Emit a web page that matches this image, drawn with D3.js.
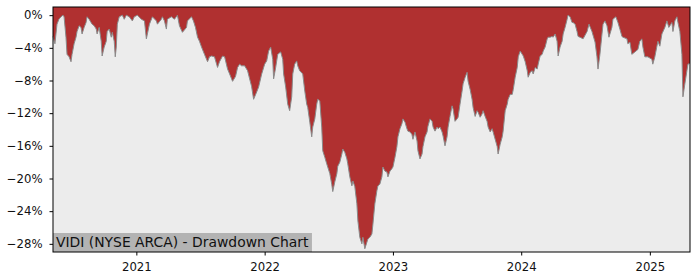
<!DOCTYPE html>
<html>
<head>
<meta charset="utf-8">
<script src="https://cdn.jsdelivr.net/npm/d3@7"></script>
<style>
  body { margin: 0; background: #fff; }
  svg { display: block; font-family: "DejaVu Sans", sans-serif; }
</style>
</head>
<body>
<div id="chart"></div>
<script>
var width = 700;
var height = 280;
var margin = { top: 7, right: 10, bottom: 28, left: 53 };

var title = 'VIDI (NYSE ARCA) - Drawdown Chart';

// dates as decimal years
var dates = [
  2020.352, 2020.367, 2020.383, 2020.398, 2020.414, 2020.430, 2020.438, 2020.453, 2020.461, 2020.477,
  2020.492, 2020.500, 2020.516, 2020.531, 2020.539, 2020.555, 2020.570, 2020.578, 2020.594, 2020.609,
  2020.617, 2020.633, 2020.648, 2020.656, 2020.672, 2020.688, 2020.695, 2020.711, 2020.727, 2020.734,
  2020.750, 2020.766, 2020.773, 2020.789, 2020.805, 2020.813, 2020.828, 2020.836, 2020.844, 2020.852,
  2020.867, 2020.891, 2020.906, 2020.922, 2020.945, 2020.969, 2020.984, 2021.008, 2021.039, 2021.063,
  2021.078, 2021.102, 2021.125, 2021.156, 2021.164, 2021.195, 2021.203, 2021.219, 2021.234, 2021.242,
  2021.273, 2021.297, 2021.320, 2021.336, 2021.359, 2021.391, 2021.398, 2021.430, 2021.445, 2021.461,
  2021.477, 2021.492, 2021.508, 2021.531, 2021.555, 2021.570, 2021.586, 2021.609, 2021.633, 2021.648,
  2021.672, 2021.688, 2021.711, 2021.727, 2021.750, 2021.773, 2021.789, 2021.805, 2021.820, 2021.844,
  2021.867, 2021.883, 2021.898, 2021.914, 2021.938, 2021.953, 2021.977, 2022.000, 2022.016, 2022.031,
  2022.047, 2022.063, 2022.070, 2022.086, 2022.102, 2022.125, 2022.141, 2022.148, 2022.164, 2022.180,
  2022.195, 2022.211, 2022.219, 2022.234, 2022.250, 2022.258, 2022.273, 2022.297, 2022.313, 2022.328,
  2022.336, 2022.352, 2022.367, 2022.375, 2022.391, 2022.406, 2022.414, 2022.430, 2022.445, 2022.453,
  2022.469, 2022.484, 2022.492, 2022.508, 2022.523, 2022.531, 2022.547, 2022.563, 2022.570, 2022.586,
  2022.602, 2022.609, 2022.625, 2022.641, 2022.648, 2022.664, 2022.680, 2022.688, 2022.703, 2022.719,
  2022.727, 2022.742, 2022.758, 2022.766, 2022.781, 2022.797, 2022.805, 2022.820, 2022.836, 2022.844,
  2022.859, 2022.875, 2022.883, 2022.898, 2022.914, 2022.922, 2022.938, 2022.953, 2022.961, 2022.977,
  2022.992, 2023.000, 2023.016, 2023.031, 2023.039, 2023.055, 2023.070, 2023.078, 2023.094, 2023.109,
  2023.117, 2023.133, 2023.148, 2023.156, 2023.172, 2023.188, 2023.195, 2023.211, 2023.227, 2023.234,
  2023.250, 2023.266, 2023.273, 2023.289, 2023.305, 2023.313, 2023.328, 2023.344, 2023.352, 2023.367,
  2023.383, 2023.391, 2023.406, 2023.422, 2023.430, 2023.445, 2023.461, 2023.469, 2023.484, 2023.500,
  2023.508, 2023.523, 2023.539, 2023.547, 2023.563, 2023.578, 2023.586, 2023.602, 2023.617, 2023.625,
  2023.641, 2023.656, 2023.664, 2023.680, 2023.695, 2023.703, 2023.719, 2023.734, 2023.742, 2023.758,
  2023.773, 2023.781, 2023.797, 2023.813, 2023.820, 2023.836, 2023.852, 2023.859, 2023.875, 2023.891,
  2023.898, 2023.914, 2023.930, 2023.938, 2023.953, 2023.969, 2023.977, 2023.992, 2024.008, 2024.016,
  2024.031, 2024.047, 2024.054, 2024.070, 2024.085, 2024.093, 2024.109, 2024.124, 2024.132, 2024.147,
  2024.163, 2024.171, 2024.186, 2024.202, 2024.209, 2024.225, 2024.240, 2024.248, 2024.264, 2024.279,
  2024.287, 2024.302, 2024.318, 2024.326, 2024.341, 2024.357, 2024.364, 2024.380, 2024.395, 2024.403,
  2024.419, 2024.434, 2024.442, 2024.457, 2024.481, 2024.512, 2024.527, 2024.550, 2024.574, 2024.589,
  2024.597, 2024.612, 2024.628, 2024.636, 2024.651, 2024.667, 2024.682, 2024.705, 2024.713, 2024.736,
  2024.752, 2024.767, 2024.783, 2024.791, 2024.822, 2024.829, 2024.845, 2024.860, 2024.884, 2024.907,
  2024.922, 2024.938, 2024.946, 2024.961, 2024.984, 2025.016, 2025.023, 2025.039, 2025.055, 2025.063,
  2025.078, 2025.094, 2025.117, 2025.133, 2025.148, 2025.172, 2025.180, 2025.195, 2025.211, 2025.219,
  2025.234, 2025.250, 2025.258, 2025.273, 2025.289, 2025.297, 2025.313
];

// drawdown in percent
var drawdown = [
  -2.6, -3.5, -1.1, -0.5, -0.2, 0, -0.2, -2.7, -4.8, -5.1,
  -5.7, -4.8, -3.5, -2.7, -2.0, -1.3, -1.5, -2.3, -1.5, -0.9,
  -0.2, -0.5, -0.9, -1.1, -1.3, -1.7, -2.3, -1.5, -3.2, -5.0,
  -3.9, -3.2, -2.0, -1.7, -2.7, -2.1, -3.2, -5.1, -3.9, -1.1,
  -0.2, 0, -0.5, 0, -0.2, -0.7, -0.2, 0, -0.5, -0.7,
  -2.9, -1.1, -0.2, -0.7, -1.1, -0.5, -0.2, -0.7, -1.7, -0.5,
  -0.2, -0.5, 0, -1.3, -2.1, -1.5, -0.7, -0.2, -0.7, -1.5,
  -2.7, -3.2, -3.9, -4.8, -5.7, -5.1, -5.0, -5.1, -6.4, -5.7,
  -5.0, -5.1, -6.6, -7.2, -8.1, -7.5, -6.4, -6.0, -6.2, -6.2,
  -6.8, -7.8, -8.7, -10.3, -9.4, -8.8, -7.2, -6.0, -5.6, -4.4,
  -3.9, -5.4, -7.8, -6.4, -4.8, -4.5, -5.4, -7.2, -8.8, -10.9,
  -11.7, -10.0, -7.2, -6.0, -5.6, -6.2, -6.8, -7.2, -9.3, -10.9,
  -11.3, -13.1, -14.9, -13.7, -12.7, -10.9, -10.3, -10.5, -13.7, -16.6,
  -17.4, -18.2, -18.6, -19.4, -20.7, -21.6, -20.4, -19.4, -18.5, -18.0,
  -17.0, -16.4, -16.8, -17.6, -18.2, -19.8, -20.9, -20.3, -21.0, -23.1,
  -25.2, -27.2, -28.0, -27.2, -28.6, -27.8, -27.4, -27.2, -26.8, -25.6,
  -23.1, -21.5, -20.9, -20.7, -19.8, -18.6, -19.1, -19.2, -19.8, -19.1,
  -18.8, -18.6, -17.4, -16.1, -14.9, -13.9, -13.3, -12.7, -13.1, -13.9,
  -14.2, -14.3, -14.6, -15.2, -14.3, -15.4, -16.6, -17.6, -17.0, -16.1,
  -14.9, -14.3, -13.6, -12.7, -13.0, -13.7, -14.2, -13.7, -13.9, -13.7,
  -14.3, -14.8, -16.0, -14.9, -13.7, -12.4, -11.1, -11.5, -13.0, -12.7,
  -12.5, -10.9, -9.3, -8.4, -7.6, -7.0, -8.1, -9.1, -10.3, -11.3,
  -12.4, -11.7, -11.9, -12.5, -12.1, -11.7, -12.4, -13.0, -13.7, -14.3,
  -13.9, -14.3, -15.2, -16.1, -17.0, -15.8, -14.9, -14.2, -11.7, -10.9,
  -10.3, -9.7, -9.7, -9.1, -7.6, -6.4, -5.1, -4.4, -4.8, -5.0,
  -5.7, -6.8, -7.6, -7.0, -6.8, -7.2, -6.4, -6.6, -6.0, -5.0,
  -4.8, -4.4, -3.9, -2.9, -2.7, -2.7, -2.6, -2.7, -2.3, -3.2,
  -5.0, -3.9, -3.2, -2.3, -1.5, -0.5, 0, -0.2, -0.9, -0.9,
  -1.1, -2.0, -2.6, -2.7, -2.9, -2.0, -1.1, -2.0, -3.3, -5.1,
  -6.6, -4.8, -2.3, -1.1, -0.7, -1.3, -2.7, -1.5, -0.5, -0.2,
  -0.9, -1.7, -2.6, -2.7, -2.9, -3.5, -3.3, -4.8, -4.5, -4.2,
  -3.2, -2.9, -3.9, -5.1, -5.1, -5.4, -6.0, -5.1, -3.8, -3.2,
  -3.8, -2.3, -1.5, -0.7, -1.5, -0.9, -2.0, -0.7, -0.2, -0.9,
  -2.0, -4.8, -10.0, -8.4, -6.8, -6.0, -5.9
];

var yTicks = [0, -4, -8, -12, -16, -20, -24, -28];
var xTickYears = [2021, 2022, 2023, 2024, 2025];

function yearToDate(t) {
  var y = Math.floor(t);
  var start = new Date(y, 0, 1);
  var end = new Date(y + 1, 0, 1);
  return new Date(+start + (t - y) * (end - start));
}

var data = dates.map(function(t, i) {
  return { date: yearToDate(t), value: drawdown[i] };
});

var svg = d3.select('#chart')
  .append('svg')
  .attr('width', width)
  .attr('height', height);

var x = d3.scaleTime()
  .domain(d3.extent(data, function(d) { return d.date; }))
  .range([margin.left, width - margin.right]);

var y = d3.scaleLinear()
  .domain([-29, 1])
  .range([height - margin.bottom, margin.top]);

// plot background
svg.append('rect')
  .attr('x', margin.left)
  .attr('y', margin.top)
  .attr('width', width - margin.left - margin.right)
  .attr('height', height - margin.top - margin.bottom)
  .attr('fill', '#ececec');

var area = d3.area()
  .x(function(d) { return x(d.date); })
  .y0(margin.top)
  .y1(function(d) { return y(d.value); });

svg.append('path')
  .datum(data)
  .attr('d', area)
  .attr('fill', '#b03030');

var line = d3.line()
  .x(function(d) { return x(d.date); })
  .y(function(d) { return y(d.value); });

svg.append('path')
  .datum(data)
  .attr('d', line)
  .attr('fill', 'none')
  .attr('stroke', '#8a8a8a')
  .attr('stroke-width', 1);

// title label
var labelG = svg.append('g');
var labelText = labelG.append('text')
  .attr('x', margin.left + 3)
  .attr('y', height - margin.bottom - 5)
  .attr('font-size', '13.9px')
  .attr('fill', '#111')
  .text(title);
var bb = labelText.node().getBBox();
labelG.insert('rect', 'text')
  .attr('x', margin.left)
  .attr('y', height - margin.bottom - 19)
  .attr('width', bb.width + 6)
  .attr('height', 19)
  .attr('fill', '#b3b3b3');

// axes
var yAxis = d3.axisLeft(y)
  .tickValues(yTicks)
  .tickSize(3.5)
  .tickPadding(7)
  .tickFormat(function(d) { return (d < 0 ? '\u2212' + Math.abs(d) : d) + '%'; });

var xAxis = d3.axisBottom(x)
  .tickValues(xTickYears.map(function(yr) { return new Date(yr, 0, 1); }))
  .tickSize(3.5)
  .tickPadding(7)
  .tickFormat(d3.timeFormat('%Y'));

var gy = svg.append('g')
  .attr('transform', 'translate(' + margin.left + ',0)')
  .call(yAxis);

var gx = svg.append('g')
  .attr('transform', 'translate(0,' + (height - margin.bottom) + ')')
  .call(xAxis);

[gx, gy].forEach(function(g) {
  g.select('.domain').remove();
  g.selectAll('.tick line').attr('stroke', '#000').attr('stroke-width', 1);
  g.selectAll('.tick text')
    .attr('fill', '#111')
    .style('font-family', '"DejaVu Sans", sans-serif')
    .style('font-size', '11.7px');
});

// frame
svg.append('rect')
  .attr('x', margin.left)
  .attr('y', margin.top)
  .attr('width', width - margin.left - margin.right)
  .attr('height', height - margin.top - margin.bottom)
  .attr('fill', 'none')
  .attr('stroke', '#000')
  .attr('stroke-width', 1);
</script>
</body>
</html>
